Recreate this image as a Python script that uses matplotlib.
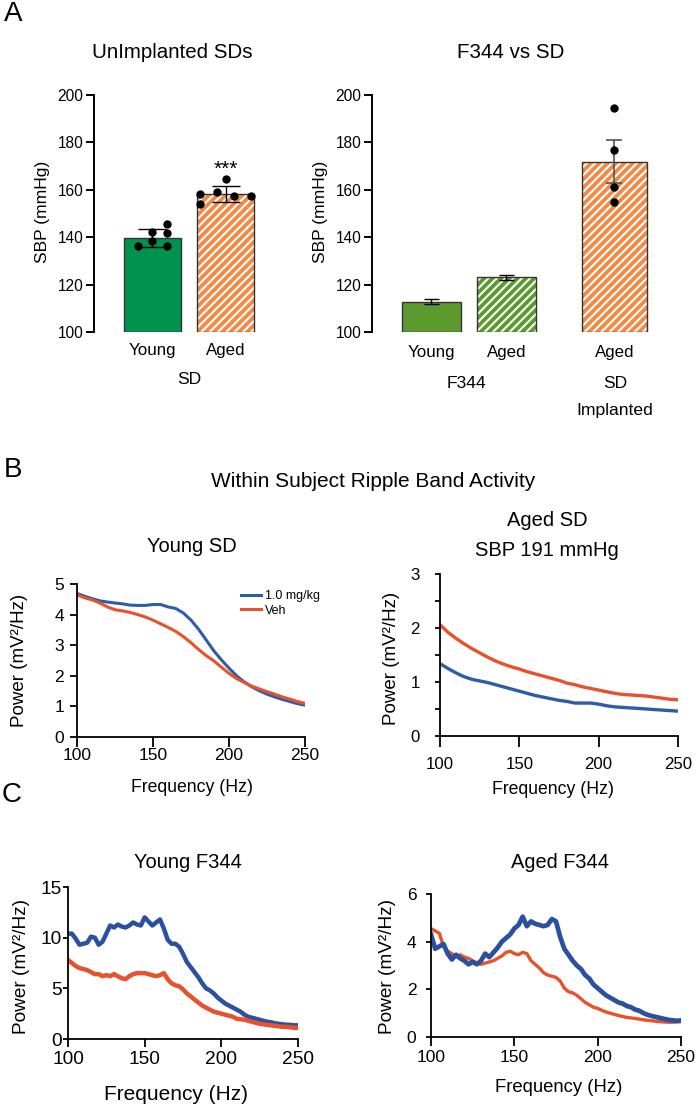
import matplotlib
matplotlib.use("Agg")
import matplotlib.pyplot as plt

plt.rcParams["font.family"] = ["Liberation Sans", "DejaVu Sans"]
plt.rcParams["hatch.linewidth"] = 1.5

W, H = 698, 1106

# ---- panel A data (SBP, mmHg)
sd_groups = ["Young", "Aged"]
sd_mean = [139.7, 158.2]
sd_err = [3.7, 3.4]
sd_young_pts = [145.4, 142.2, 141.6, 138.4, 136.2, 136.2]
sd_aged_pts = [164.6, 158.2, 159.1, 157.3, 157.5, 154.1]

f344_groups = ["Young", "Aged", "Aged"]
f344_mean = [112.8, 123.0, 171.9]
f344_err = [1.05, 1.2, 9.0]
sd_implanted_pts = [194.6, 176.9, 161.3, 155.0]

# ---- panel B data (power, mV^2/Hz)
freq_b = [100, 105, 110, 115, 120, 125, 130, 135, 140, 145, 150, 155, 160, 165, 170, 175,
          180, 185, 190, 195, 200, 205, 210, 215, 220, 225, 230, 235, 240, 245, 250]
young_sd_drug = [4.69, 4.60, 4.52, 4.45, 4.41, 4.38, 4.35, 4.31, 4.30, 4.30, 4.33, 4.33, 4.25,
                 4.20, 4.05, 3.82, 3.52, 3.17, 2.82, 2.52, 2.25, 2.00, 1.80, 1.64, 1.51, 1.40,
                 1.31, 1.23, 1.16, 1.09, 1.04]
young_sd_veh = [4.65, 4.55, 4.48, 4.38, 4.25, 4.16, 4.12, 4.07, 4.00, 3.92, 3.82, 3.70, 3.58,
                3.45, 3.28, 3.08, 2.86, 2.66, 2.49, 2.28, 2.08, 1.91, 1.78, 1.66, 1.57, 1.48,
                1.40, 1.31, 1.24, 1.16, 1.10]
aged_sd_drug = [1.34, 1.25, 1.17, 1.10, 1.05, 1.02, 0.99, 0.95, 0.91, 0.87, 0.83, 0.79, 0.75,
                0.72, 0.69, 0.66, 0.64, 0.61, 0.61, 0.61, 0.59, 0.56, 0.54, 0.53, 0.52, 0.51,
                0.50, 0.49, 0.48, 0.47, 0.46]
aged_sd_veh = [2.06, 1.92, 1.81, 1.71, 1.62, 1.54, 1.46, 1.39, 1.33, 1.28, 1.24, 1.19, 1.15,
               1.11, 1.07, 1.03, 0.98, 0.95, 0.91, 0.88, 0.85, 0.82, 0.79, 0.77, 0.76, 0.75,
               0.74, 0.72, 0.70, 0.68, 0.67]

# ---- panel C data
freq_c = [100, 102.5, 105, 107.5, 110, 112.5, 115, 117.5, 120, 122.5, 125, 127.5, 130, 132.5,
          135, 137.5, 140, 142.5, 145, 147.5, 150, 152.5, 155, 157.5, 160, 162.5, 165, 167.5,
          170, 172.5, 175, 177.5, 180, 182.5, 185, 187.5, 190, 192.5, 195, 197.5, 200, 202.5,
          205, 207.5, 210, 212.5, 215, 217.5, 220, 222.5, 225, 227.5, 230, 232.5, 235, 237.5,
          240, 242.5, 245, 247.5, 250]
young_f344_drug = [10.4, 10.4, 9.9, 9.3, 9.4, 9.5, 10.1, 10.0, 9.3, 9.6, 10.4, 11.2, 11.0, 11.3,
                   11.1, 11.0, 11.2, 11.5, 11.3, 11.2, 12.0, 11.6, 11.2, 11.5, 11.8, 10.9, 9.8,
                   9.4, 9.4, 9.1, 8.4, 7.6, 7.1, 6.6, 6.1, 5.5, 5.0, 4.8, 4.5, 4.1, 3.8, 3.5,
                   3.3, 3.1, 2.9, 2.7, 2.4, 2.2, 2.1, 2.0, 1.9, 1.8, 1.7, 1.65, 1.55, 1.5, 1.45,
                   1.4, 1.4, 1.35, 1.35]
young_f344_veh = [7.8, 7.5, 7.2, 7.0, 6.9, 6.8, 6.6, 6.4, 6.4, 6.2, 6.3, 6.2, 6.4, 6.2, 6.0, 5.9,
                  6.2, 6.4, 6.5, 6.5, 6.5, 6.4, 6.3, 6.2, 6.3, 6.5, 5.9, 5.5, 5.3, 5.2, 4.9, 4.5,
                  4.2, 3.9, 3.6, 3.3, 3.1, 2.9, 2.7, 2.6, 2.5, 2.4, 2.3, 2.2, 2.0, 1.95, 1.9,
                  1.8, 1.7, 1.6, 1.5, 1.45, 1.4, 1.35, 1.3, 1.25, 1.2, 1.2, 1.15, 1.1, 1.1]
aged_f344_drug = [4.3, 3.7, 3.8, 3.9, 3.5, 3.25, 3.45, 3.3, 3.2, 3.05, 3.15, 3.05, 3.2, 3.5, 3.35,
                  3.55, 3.75, 4.0, 4.15, 4.3, 4.55, 4.7, 5.05, 4.65, 4.85, 4.75, 4.7, 4.65, 4.7,
                  4.95, 4.85, 4.2, 3.7, 3.45, 3.2, 3.0, 2.85, 2.6, 2.45, 2.2, 2.05, 1.9, 1.75,
                  1.65, 1.55, 1.45, 1.4, 1.3, 1.25, 1.15, 1.1, 1.0, 0.93, 0.88, 0.84, 0.8, 0.76,
                  0.72, 0.7, 0.68, 0.7]
aged_f344_veh = [4.55, 4.45, 4.35, 3.8, 3.6, 3.5, 3.35, 3.45, 3.35, 3.3, 3.2, 3.1, 3.05, 3.1, 3.15,
                 3.2, 3.3, 3.4, 3.55, 3.6, 3.5, 3.45, 3.55, 3.5, 3.2, 3.05, 2.9, 2.7, 2.6, 2.55,
                 2.5, 2.35, 2.05, 1.9, 1.85, 1.75, 1.6, 1.45, 1.35, 1.25, 1.2, 1.12, 1.05, 1.0,
                 0.95, 0.9, 0.86, 0.82, 0.8, 0.78, 0.75, 0.72, 0.7, 0.68, 0.66, 0.64, 0.63,
                 0.62, 0.62, 0.63, 0.64]

green = "#00924f"
olive = "#5b9a2e"
orange = "#f28a46"
blue = "#2d5ca8"
red = "#e8512b"
dark_blue = "#2b509f"

fig = plt.figure(figsize=(W / 100, H / 100), dpi=100)


def fx(x):
    return x / W


def fy(y):
    return 1 - y / H


def put(x, y, s, size, **kw):
    fig.text(fx(x), fy(y), s, fontsize=size, ha="center", va="center", **kw)


def add_ax(left, right, top, bottom):
    return fig.add_axes([fx(left), fy(bottom), (right - left) / W, (bottom - top) / H])


def hatched_bar(ax, x, h, w, face):
    ax.bar(x, h - 100, w, bottom=100, color=face, edgecolor="white", hatch="////", linewidth=0)
    ax.bar(x, h - 100, w, bottom=100, fill=False, edgecolor="#333333", linewidth=1)


# ---------------- panel A, left
ax = add_ax(94, 270, 95, 332)
ax.bar(0, sd_mean[0] - 100, 0.776, bottom=100, color=green, edgecolor="#333333", linewidth=1)
hatched_bar(ax, 1, sd_mean[1], 0.776, orange)
ax.errorbar([0, 1], sd_mean, yerr=sd_err, fmt="none", ecolor="black", elinewidth=1,
            capsize=10, capthick=1, zorder=5)
young_offsets = [0.2, 0, 0.2, 0, -0.2, 0.2]
aged_offsets = [0, -0.35, -0.12, 0.11, 0.34, -0.35]
ax.plot(young_offsets, sd_young_pts, "o", color="black", ms=5, zorder=6)
ax.plot([1 + o for o in aged_offsets], sd_aged_pts, "o", color="black", ms=5, zorder=6)
ax.text(1, 168.5, "***", ha="center", va="center", fontsize=15)
ax.set_xlim(-0.796, 1.6)
ax.set_ylim(100, 200)
ax.set_yticks(range(100, 201, 20))
ax.set_xticks([0, 1])
ax.set_xticklabels(sd_groups)
for s in ["top", "right", "bottom"]:
    ax.spines[s].set_visible(False)
ax.spines["left"].set_linewidth(1.4)
ax.tick_params(axis="y", length=5.8, width=1.4, labelsize=11.2, pad=2)
ax.tick_params(axis="x", length=0, labelsize=12.2, pad=8)

# ---------------- panel A, right
ax = add_ax(372, 660, 95, 332)
xs = [0, 1, 2.44]
ax.bar(0, f344_mean[0] - 100, 0.787, bottom=100, color=olive, edgecolor="#333333", linewidth=1)
hatched_bar(ax, 1, f344_mean[1], 0.787, olive)
hatched_bar(ax, 2.44, f344_mean[2], 0.867, orange)
ax.errorbar(xs[:2], f344_mean[:2], yerr=f344_err[:2], fmt="none", ecolor="black",
            elinewidth=1, capsize=5.4, capthick=1, zorder=5)
ax.errorbar(xs[2], f344_mean[2], yerr=f344_err[2], fmt="none", ecolor="#555555",
            elinewidth=1.2, capsize=6, capthick=1.2, zorder=5)
ax.plot([2.44] * len(sd_implanted_pts), sd_implanted_pts, "o", color="black", ms=5, zorder=6)
ax.set_xlim(-0.793, 3.047)
ax.set_ylim(100, 200)
ax.set_yticks(range(100, 201, 20))
ax.set_xticks(xs)
ax.set_xticklabels(f344_groups)
for s in ["top", "right", "bottom"]:
    ax.spines[s].set_visible(False)
ax.spines["left"].set_linewidth(1.4)
ax.tick_params(axis="y", length=5.8, width=1.4, labelsize=11.2, pad=2)
ax.tick_params(axis="x", length=0, labelsize=12.2, pad=9)

put(13, 14, "A", 20)
put(172, 53, "UnImplanted SDs", 14.8)
put(511, 53, "F344 vs SD", 14.8)
put(43, 212, "SBP (mmHg)", 12.6, rotation=90)
put(321, 212, "SBP (mmHg)", 12.6, rotation=90)
put(189, 380, "SD", 12.6)
put(467, 383, "F344", 12.6)
put(615, 383, "SD", 12.6)
put(615, 410, "Implanted", 12.6)


def style(ax, xlen, xpad, ylen, ypad, size):
    for s in ["top", "right"]:
        ax.spines[s].set_visible(False)
    for s in ["left", "bottom"]:
        ax.spines[s].set_linewidth(1.3)
    ax.tick_params(axis="x", length=xlen, width=1.3, pad=xpad, labelsize=size)
    ax.tick_params(axis="y", length=ylen, width=1.3, pad=ypad, labelsize=size)
    ax.set_xlim(100, 250)
    ax.set_xticks([100, 150, 200, 250])


ylabel = "Power (mV\u00b2/Hz)"

# ---------------- panel B
put(13, 470, "B", 20)
put(373, 481, "Within Subject Ripple Band Activity", 15)

ax = add_ax(77, 305, 584, 737)
ax.plot(freq_b, young_sd_drug, color=blue, lw=2.2, label="1.0 mg/kg")
ax.plot(freq_b, young_sd_veh, color=red, lw=2.2, label="Veh")
ax.set_ylim(0, 5)
ax.set_yticks(range(0, 6))
style(ax, 7, 1, 5, 4.3, 12.6)
ax.legend(loc="upper left", bbox_to_anchor=(fx(241), fy(590)), bbox_transform=fig.transFigure,
          frameon=False, fontsize=9, handlelength=1.6, handletextpad=0.35, labelspacing=0.2,
          borderpad=0, borderaxespad=0)
put(192, 546, "Young SD", 14.5)
put(20, 660, ylabel, 13.5, rotation=90)
put(192, 787, "Frequency (Hz)", 12.7)

ax = add_ax(440, 678, 574, 736)
ax.plot(freq_b, aged_sd_drug, color=blue, lw=2.4)
ax.plot(freq_b, aged_sd_veh, color=red, lw=2.4)
ax.set_ylim(0, 3)
ax.set_yticks(range(0, 4))
ax.set_yticks([0.5, 1.5, 2.5], minor=True)
style(ax, 8, 7, 3.6, 11, 12.1)
ax.tick_params(axis="y", which="minor", length=3.6, width=1.3)
put(547, 520, "Aged SD", 14.5)
put(547, 551, "SBP 191 mmHg", 14.5)
put(391, 658, ylabel, 13.5, rotation=90)
put(553, 790, "Frequency (Hz)", 12.7)

# ---------------- panel C
put(12, 795, "C", 20)

ax = add_ax(68, 298, 887, 1039)
ax.plot(freq_c, young_f344_drug, color=dark_blue, lw=3.2)
ax.plot(freq_c, young_f344_veh, color=red, lw=3.2)
ax.set_ylim(0, 15)
ax.set_yticks([0, 5, 10, 15])
style(ax, 5.8, 3, 3.6, 1, 13.8)
put(188, 863, "Young F344", 14.5)
put(22, 966, ylabel, 13.7, rotation=90)
put(176, 1094, "Frequency (Hz)", 15)

ax = add_ax(431, 681, 894, 1037)
ax.plot(freq_c, aged_f344_veh, color=red, lw=2.4)
ax.plot(freq_c, aged_f344_drug, color=dark_blue, lw=3.4)
ax.set_ylim(0, 6)
ax.set_yticks([0, 2, 4, 6])
style(ax, 6.5, 3, 3.6, 7, 12.5)
put(560, 863, "Aged F344", 14.4)
put(387, 967, ylabel, 13.7, rotation=90)
put(559, 1088, "Frequency (Hz)", 13.3)

fig.savefig("out.png", dpi=100)
